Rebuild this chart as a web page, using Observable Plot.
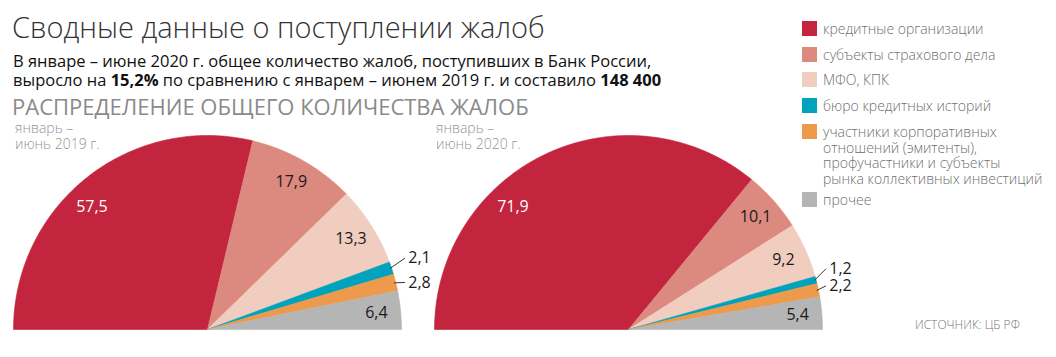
<!DOCTYPE html>
<html><head><meta charset="utf-8">
<script src="https://cdn.jsdelivr.net/npm/d3@7"></script>
<script src="https://cdn.jsdelivr.net/npm/@observablehq/plot@0.6"></script>
<style>
body{margin:0;background:#fff;font-family:"Open Sans",sans-serif;}
#root{position:relative;width:1056px;height:357px;overflow:hidden;background:#fff;}
.abs{position:absolute;white-space:nowrap;}
#title{left:12px;top:7px;font-size:29px;font-weight:300;color:#333;line-height:40px;}
#sub{left:13px;top:51px;font-size:16.5px;color:#111;line-height:19px;}
#sub b{font-weight:700;}
#head{left:12px;top:94px;font-size:22px;color:#8a8a8a;line-height:24px;}
.period{top:120px;font-size:14px;font-weight:300;color:#949494;line-height:16px;}
#legend{left:802px;top:21px;display:flex;flex-direction:column;gap:10px;}
.row{display:flex;align-items:flex-start;font-size:14px;font-weight:300;color:#6f6f6f;line-height:15.7px;}
.sw{width:15px;height:15px;flex:none;margin-right:6px;}
#source{left:915px;top:317px;font-size:12px;font-weight:300;color:#777;line-height:16px;}
.pie{position:absolute;top:0;}
</style></head><body><div id="root">
<div id="title" class="abs"></div>
<div id="sub" class="abs"></div>
<div id="head" class="abs"></div>
<div id="legend" class="abs"></div>
<div id="source" class="abs"></div>
</div>
<script>
const categories = ["кредитные организации", "субъекты страхового дела", "МФО, КПК", "бюро кредитных историй", "участники корпоративных отношений (эмитенты), профучастники и субъекты рынка коллективных инвестиций", "прочее"];
const legendLines = [["кредитные организации"], ["субъекты страхового дела"], ["МФО, КПК"], ["бюро кредитных историй"], ["участники корпоративных", "отношений (эмитенты),", "профучастники и субъекты", "рынка коллективных инвестиций"], ["прочее"]];
const colors = ["#c3243e", "#dc8a80", "#f1cdbf", "#00a3bb", "#ee9a4c", "#b5b5b5"];
const periods = [["январь –", "июнь 2019 г."], ["январь –", "июнь 2020 г."]];
const values2019 = [57.5, 17.9, 13.3, 2.1, 2.8, 6.4];
const values2020 = [71.9, 10.1, 9.2, 1.2, 2.2, 5.4];
const titleText = "Сводные данные о поступлении жалоб";
const subtitleHTML = "В январе – июне 2020 г. общее количество жалоб, поступивших в Банк России,<br>выросло на <b>15,2%</b> по сравнению с январем – июнем 2019 г. и составило <b>148 400</b>";
const headText = "РАСПРЕДЕЛЕНИЕ ОБЩЕГО КОЛИЧЕСТВА ЖАЛОБ";
const sourceText = "ИСТОЧНИК: ЦБ РФ";

const root = document.getElementById("root");
document.getElementById("title").textContent = titleText;
document.getElementById("sub").innerHTML = subtitleHTML;
document.getElementById("head").textContent = headText;
document.getElementById("source").textContent = sourceText;

const legend = document.getElementById("legend");
legendLines.forEach((lines, i) => {
  const row = document.createElement("div");
  row.className = "row";
  if (i === 4) row.style.marginBottom = "-5px";
  const sw = document.createElement("div");
  sw.className = "sw"; sw.style.background = colors[i];
  const t = document.createElement("div");
  t.innerHTML = lines.join("<br>");
  row.appendChild(sw); row.appendChild(t);
  legend.appendChild(row);
});

function fmt(v) { return String(v).replace(".", ","); }

function pie(values, period, leftPx) {
  const pts = [], labels = [], leaders = [];
  let cum = 0;
  const small = [];
  values.forEach((v, i) => {
    const a0 = Math.PI * (1 - cum / 100), a1 = Math.PI * (1 - (cum + v) / 100);
    const n = Math.max(2, Math.ceil((a0 - a1) / (Math.PI / 360)));
    pts.push({x: 0, y: 0, c: categories[i]});
    for (let k = 0; k <= n; k++) {
      const a = a0 + (a1 - a0) * k / n;
      pts.push({x: Math.cos(a), y: Math.sin(a), c: categories[i]});
    }
    pts.push({x: 0, y: 0, c: categories[i]});
    const mid = (a0 + a1) / 2;
    if (v < 3) {
      small.push({v, mid});
    } else {
      const big = (a0 - a1) > Math.PI / 2;
      const ang = big ? a0 - 0.26 * Math.PI : mid;
      const r = big ? 0.87 : 0.875;
      labels.push({x: r * Math.cos(ang), y: r * Math.sin(ang), t: fmt(v), white: i === 0});
    }
    cum += v;
  });
  // stack outside labels from the lowest upward
  let prev = null;
  for (let j = small.length - 1; j >= 0; j--) {
    const s = small[j];
    const my = Math.sin(s.mid);
    const ly = prev === null ? Math.max(my, 0.225) : Math.max(my + 0.0515, prev + 0.088);
    prev = ly;
    leaders.push({x1: 0.99 * Math.cos(s.mid), y1: 0.99 * Math.sin(s.mid), x2: 1.018, y2: ly});
    labels.push({x: 1.035, y: ly, t: fmt(s.v), white: false, out: true});
  }
  const plot = Plot.plot({
    width: 420, height: 357,
    marginLeft: 13, marginRight: 19, marginTop: 135, marginBottom: 28,
    x: {domain: [-1, 1], axis: null},
    y: {domain: [0, 1], axis: null},
    color: {domain: categories, range: colors},
    style: {background: "transparent", overflow: "visible", fontFamily: "'Open Sans', sans-serif"},
    marks: [
      Plot.line(pts, {x: "x", y: "y", z: "c", fill: "c", stroke: "c", strokeWidth: 0.6, curve: "linear"}),
      Plot.link(leaders, {x1: "x1", y1: "y1", x2: "x2", y2: "y2", stroke: "#333", strokeWidth: 1}),
      Plot.text(labels.filter(d => !d.out), {x: "x", y: "y", text: "t", fill: d => d.white ? "#fff" : "#1a1a1a", fontSize: 16, textAnchor: "middle"}),
      Plot.text(labels.filter(d => d.out), {x: "x", y: "y", text: "t", fill: "#1a1a1a", fontSize: 16, textAnchor: "start"})
    ]
  });
  plot.classList.add("pie");
  plot.style.left = leftPx + "px";
  root.appendChild(plot);
  const p = document.createElement("div");
  p.className = "abs period";
  p.style.left = (leftPx + 15) + "px";
  p.innerHTML = period.join("<br>");
  root.appendChild(p);
}
pie(values2019, periods[0], 0);
pie(values2020, periods[1], 421);
root.appendChild(document.getElementById("legend"));
root.appendChild(document.getElementById("source"));
</script></body></html>
